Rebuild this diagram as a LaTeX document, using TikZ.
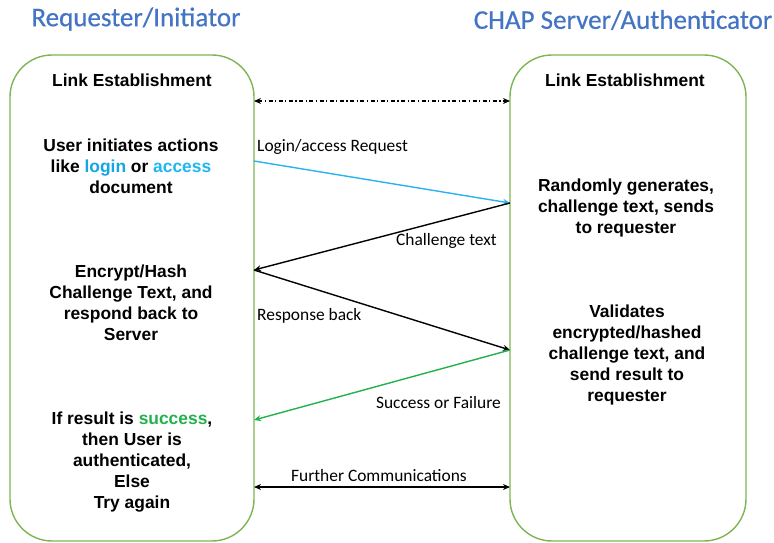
\documentclass[tikz,border=0pt]{standalone}
\usepackage{fontspec}
\setmainfont{Liberation Sans}
\newfontfamily\calfont{Carlito}
\newfontfamily\titlefont[FakeBold=0.6]{Carlito}
\usetikzlibrary{arrows.meta}
\definecolor{boxgreen}{HTML}{7CB552}
\definecolor{titleblue}{HTML}{4474C4}
\definecolor{loginblue}{HTML}{14A4E8}
\definecolor{accessblue}{HTML}{1FB6F0}
\definecolor{reqblue}{HTML}{2AB2EE}
\definecolor{succgreen}{HTML}{22B14C}
\tikzset{
  party/.style={draw=boxgreen, line width=1.4pt, rounded corners=42pt},
  bodytext/.style={align=center, font=\fontsize{17.4}{21}\selectfont\bfseries, inner sep=0pt},
  msglabel/.style={font=\calfont\fontsize{17.4}{19}\selectfont, inner sep=0pt},
  titletext/.style={font=\titlefont\fontsize{27}{30}\selectfont, text=titleblue, inner sep=0pt},
  msg/.style={line width=1.4pt, -{Stealth[length=7pt,width=6pt]}},
  both/.style={line width=1.3pt, {Stealth[length=7pt,width=6pt]}-{Stealth[length=7pt,width=6pt]}},
}
\begin{document}
\begin{tikzpicture}[x=1pt,y=-1pt]
\useasboundingbox (0,0) rectangle (774,542);
% titles
\node[titletext] (t1) at (136,19) {Requester/Initiator};
\node[titletext] (t2) at (623,20) {CHAP Server/Authenticator};
% party boxes
\draw[party] (10,55) rectangle (254,541);
\draw[party] (510,55) rectangle (746,541);
% anchor points on the lifelines
\coordinate (L0) at (254,101); \coordinate (R0) at (510,101);
\coordinate (L1) at (254,161); \coordinate (R1) at (510,203);
\coordinate (L2) at (254,270); \coordinate (R2) at (510,350);
\coordinate (L3) at (254,420); \coordinate (L4) at (254,487); \coordinate (R4) at (510,487);
% left texts
\node[bodytext] (le1) at (132,80) {Link Establishment};
\node[bodytext] (u1) at (131,166) {User initiates actions\\like {\color{loginblue}login} or {\color{accessblue}access}\\document};
\node[bodytext] (u2) at (131,303) {Encrypt/Hash\\Challenge Text, and\\respond back to\\Server};
\node[bodytext] (u3) at (132,462) {If result is {\color{succgreen}success},\\then User is\\authenticated,\\Else\\Try again};
% right texts
\node[bodytext] (le2) at (625,80) {Link Establishment};
\node[bodytext] (s1) at (626,208) {Randomly generates,\\challenge text, sends\\to requester};
\node[bodytext] (s2) at (627,355) {Validates\\encrypted/hashed\\challenge text, and\\send result to\\requester};
% messages
\draw[both, line width=1.1pt, dash pattern=on 4pt off 2.5pt on 1.2pt off 2.5pt] (L0) -- (R0);
\draw[msg, reqblue] (L1) -- (R1);
\draw[msg, black] (R1) -- (L2);
\draw[msg, black] (L2) -- (R2);
\draw[msg, succgreen] (R2) -- (L3);
\draw[both] (L4) -- (R4);
% labels
\node[msglabel, anchor=west] (m1) at (257,147) {Login/access Request};
\node[msglabel, anchor=east] (m2) at (497,241) {Challenge text};
\node[msglabel, anchor=west] (m3) at (257,316) {Response back};
\node[msglabel, anchor=east] (m4) at (501,403) {Success or Failure};
\node[msglabel] (m5) at (379,476) {Further Communications};
\end{tikzpicture}
\end{document}
